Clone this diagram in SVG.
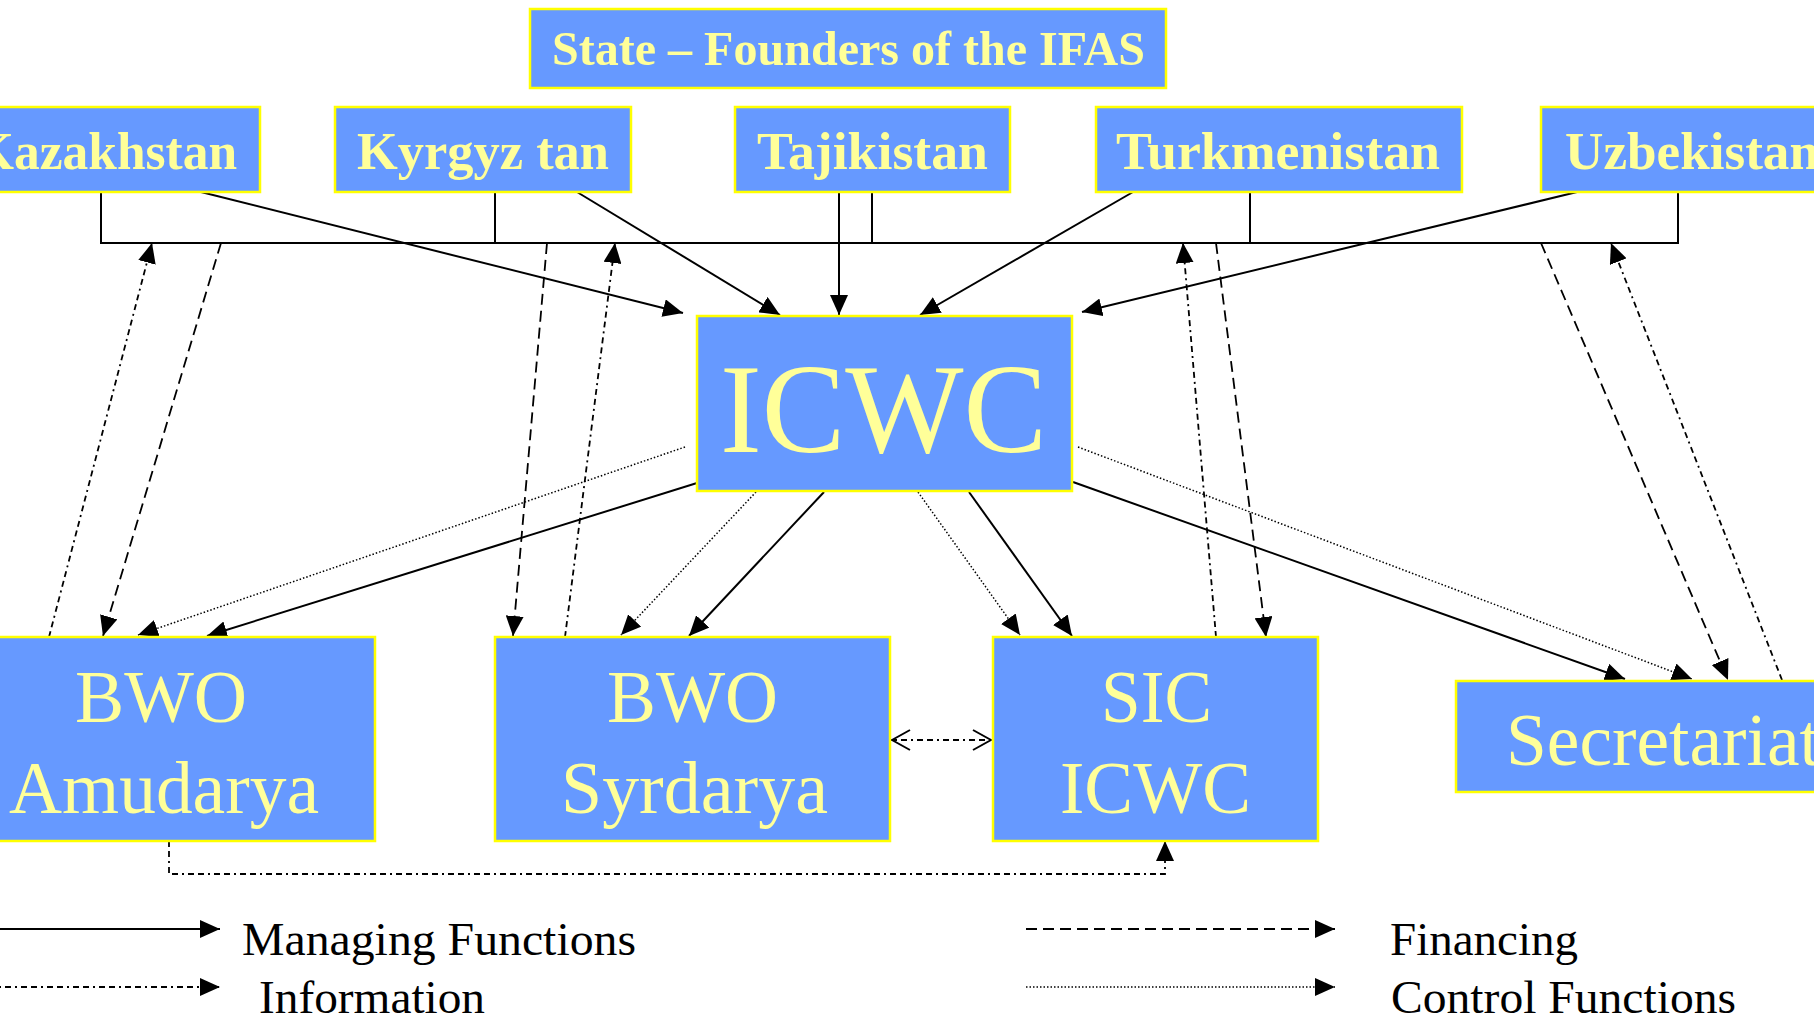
<svg xmlns="http://www.w3.org/2000/svg" width="1814" height="1020" viewBox="0 0 1814 1020">
<style>
.box{fill:#6699FF;stroke:#FFFF00;stroke-width:2.5}
.lbl{font-family:"Liberation Serif","Times New Roman",serif;fill:#FFFF99}
.b{font-weight:bold;font-size:53px}
.big{font-size:74px}
.leg{font-family:"Liberation Serif","Times New Roman",serif;fill:#000;font-size:46px}
.ln{fill:none;stroke:#000}
.man{stroke-width:2}
.inf{stroke-width:1.8;stroke-dasharray:6 4 6 4 2 4}
.fin{stroke-width:1.8;stroke-dasharray:11 6}
.ctl{stroke-width:1.5;stroke-dasharray:1.5 2}
</style>
<defs>
<marker id="ah" viewBox="0 0 20 18" refX="20" refY="9" markerWidth="20" markerHeight="18" markerUnits="userSpaceOnUse" orient="auto">
<path d="M0,0 L20,9 L0,18 z" fill="#000"/>
</marker>
<marker id="oh" viewBox="0 0 20 22" refX="20" refY="11" markerWidth="20" markerHeight="22" markerUnits="userSpaceOnUse" orient="auto-start-reverse">
<path d="M1,1 L19,11 L1,21" fill="none" stroke="#000" stroke-width="2"/>
</marker>
</defs>

<g id="connectors">
<path class="ln man" d="M101,192 V243 H1678 V192 M495,192 V243 M872,192 V243 M1250,192 V243"/>
<g marker-end="url(#ah)">
<path class="ln man" d="M201,192 L683,313"/>
<path class="ln man" d="M577,192 L780,315"/>
<path class="ln man" d="M839,192 L839,315"/>
<path class="ln man" d="M1133,192 L920,315"/>
<path class="ln man" d="M1577,192 L1082,312"/>
<path class="ln man" d="M697,483 L207,636"/>
<path class="ln man" d="M824,492 L689,636"/>
<path class="ln man" d="M969,492 L1072,636"/>
<path class="ln man" d="M1073,482 L1625,679"/>
<path class="ln ctl" d="M685,447 L138,635"/>
<path class="ln ctl" d="M756,492 L621,635"/>
<path class="ln ctl" d="M918,492 L1020,635"/>
<path class="ln ctl" d="M1078,447 L1692,679"/>
<path class="ln fin" d="M221,243 L103,636"/>
<path class="ln fin" d="M547,243 L513,636"/>
<path class="ln fin" d="M1216,243 L1266,637"/>
<path class="ln fin" d="M1541,243 L1728,680"/>
<path class="ln inf" d="M49,637 L152,243"/>
<path class="ln inf" d="M565,637 L615,243"/>
<path class="ln inf" d="M1216,637 L1183,243"/>
<path class="ln inf" d="M1782,680 L1611,243"/>
<path class="ln inf" d="M169,841 V874 H1165 V841"/>
</g>
<path class="ln inf" d="M891,740 H992" marker-start="url(#oh)" marker-end="url(#oh)"/>
</g>

<g id="state"><rect class="box" x="530" y="9" width="636" height="79"/><text class="lbl" x="552" y="65" font-size="48" font-weight="bold" textLength="593" lengthAdjust="spacingAndGlyphs">State – Founders of the IFAS</text></g>
<g id="kazakhstan"><rect class="box" x="-50" y="107" width="310" height="85"/><text class="lbl b" x="-26" y="169" textLength="263" lengthAdjust="spacingAndGlyphs">Kazakhstan</text></g>
<g id="kyrgyzstan"><rect class="box" x="335" y="107" width="296" height="85"/><text class="lbl b" x="357" y="169" textLength="252" lengthAdjust="spacingAndGlyphs">Kyrgyz tan</text></g>
<g id="tajikistan"><rect class="box" x="735" y="107" width="275" height="85"/><text class="lbl b" x="757" y="169" textLength="231" lengthAdjust="spacingAndGlyphs">Tajikistan</text></g>
<g id="turkmenistan"><rect class="box" x="1096" y="107" width="366" height="85"/><text class="lbl b" x="1116" y="169" textLength="324" lengthAdjust="spacingAndGlyphs">Turkmenistan</text></g>
<g id="uzbekistan"><rect class="box" x="1541" y="107" width="310" height="85"/><text class="lbl b" x="1565" y="169" textLength="254" lengthAdjust="spacingAndGlyphs">Uzbekistan</text></g>

<g id="icwc"><rect class="box" x="697" y="316" width="375" height="175"/><text class="lbl" x="720" y="452" font-size="128" textLength="327" lengthAdjust="spacingAndGlyphs">ICWC</text></g>

<g id="bwo-amudarya"><rect class="box" x="-53" y="637" width="428" height="204"/><text class="lbl big" x="75" y="722" textLength="172" lengthAdjust="spacingAndGlyphs">BWO</text><text class="lbl big" x="9" y="813" textLength="310" lengthAdjust="spacingAndGlyphs">Amudarya</text></g>
<g id="bwo-syrdarya"><rect class="box" x="495" y="637" width="395" height="204"/><text class="lbl big" x="607" y="722" textLength="171" lengthAdjust="spacingAndGlyphs">BWO</text><text class="lbl big" x="561" y="813" textLength="267" lengthAdjust="spacingAndGlyphs">Syrdarya</text></g>
<g id="sic-icwc"><rect class="box" x="993" y="637" width="325" height="204"/><text class="lbl big" x="1101" y="722" textLength="111" lengthAdjust="spacingAndGlyphs">SIC</text><text class="lbl big" x="1060" y="813" textLength="191" lengthAdjust="spacingAndGlyphs">ICWC</text></g>
<g id="secretariat"><rect class="box" x="1456" y="681" width="410" height="111"/><text class="lbl big" x="1506" y="765" textLength="314" lengthAdjust="spacingAndGlyphs">Secretariat</text></g>

<g id="legend">
<g marker-end="url(#ah)">
<path class="ln man" d="M-5,929 H220"/>
<path class="ln inf" d="M-5,987 H220"/>
<path class="ln fin" d="M1026,929 H1335"/>
<path class="ln ctl" d="M1026,987 H1335"/>
</g>
<text class="leg" x="242" y="955" textLength="394" lengthAdjust="spacingAndGlyphs">Managing Functions</text>
<text class="leg" x="259" y="1013" textLength="226" lengthAdjust="spacingAndGlyphs">Information</text>
<text class="leg" x="1390" y="955" textLength="188" lengthAdjust="spacingAndGlyphs">Financing</text>
<text class="leg" x="1391" y="1013" textLength="345" lengthAdjust="spacingAndGlyphs">Control Functions</text>
</g>
</svg>
